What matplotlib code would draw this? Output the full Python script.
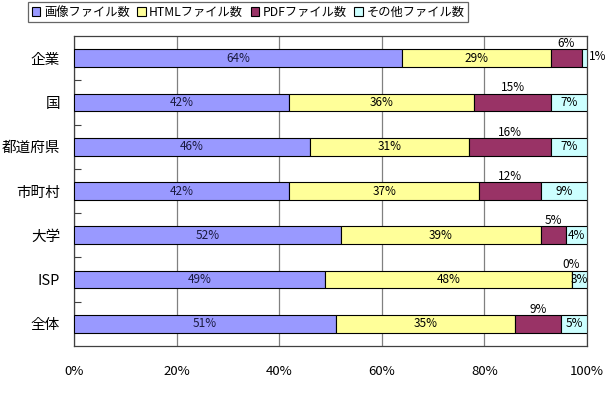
import matplotlib
matplotlib.use("Agg")
from matplotlib import pyplot as plt
import numpy as np

plt.rcParams['font.family'] = ['Noto Sans CJK JP', 'DejaVu Sans']

# data (percent of files)
categories = ['企業', '国', '都道府県', '市町村', '大学', 'ISP', '全体']
series_names = ['画像ファイル数', 'HTMLファイル数', 'PDFファイル数', 'その他ファイル数']
image_files = [64, 42, 46, 42, 52, 49, 51]
html_files = [29, 36, 31, 37, 39, 48, 35]
pdf_files = [6, 15, 16, 12, 5, 0, 9]
other_files = [1, 7, 7, 9, 4, 3, 5]
xtick_labels = ['0%', '20%', '40%', '60%', '80%', '100%']

colors = ['#9999FF', '#FFFF99', '#993366', '#CCFFFF']

fig = plt.figure(figsize=(6.11, 3.94), dpi=100)
ax = fig.add_axes([74 / 611, 1 - 346 / 394, 513 / 611, 310 / 394])

y = np.arange(len(categories))
left = np.zeros(len(categories))
bars = []
for name, vals, c in zip(series_names, [image_files, html_files, pdf_files, other_files], colors):
    vals = np.array(vals, dtype=float)
    b = ax.barh(y, vals, left=left, height=0.4, color=c, edgecolor='black',
                linewidth=0.8, label=name, zorder=3)
    bars.append((b, vals, left.copy()))
    left = left + vals

# data labels
for k, (b, vals, lefts) in enumerate(bars):
    for i in range(len(categories)):
        cx = lefts[i] + vals[i] / 2
        txt = '{:.0f}%'.format(vals[i])
        if k == 2:
            # PDF labels sit above the bar
            ax.annotate(txt, (cx, y[i]), xytext=(0, 10.5), textcoords='offset points',
                        ha='center', va='center', fontsize=8.5, zorder=5)
        elif k == 3 and vals[i] < 2:
            ax.annotate(txt, (lefts[i] + vals[i], y[i]), xytext=(8, 1), textcoords='offset points',
                        ha='center', va='center', fontsize=8.5, zorder=5, annotation_clip=False)
        else:
            ax.text(cx, y[i], txt, ha='center', va='center', fontsize=8.5,
                    color='#1a1a40' if k == 0 else 'black', zorder=5)

ax.set_xlim(0, 100)
ax.set_ylim(len(categories) - 0.5, -0.5)
ax.set_xticks([0, 20, 40, 60, 80, 100])
ax.set_xticklabels(xtick_labels, fontsize=9.5)
ax.set_yticks(y)
ax.set_yticklabels(categories, fontsize=10.5)
ax.set_yticks(np.arange(0.5, len(categories) - 1, 1), minor=True)
ax.tick_params(axis='x', length=0, pad=14)
ax.tick_params(axis='y', which='major', length=0, pad=10)
ax.tick_params(axis='y', which='minor', direction='in', length=5, color='#404040', width=0.8)

ax.grid(axis='x', color='#808080', linewidth=0.9, zorder=0)
for s in ax.spines.values():
    s.set_color('#404040')
    s.set_linewidth(0.9)

leg = fig.legend(loc='upper left', bbox_to_anchor=(28 / 611, 1 - 2 / 394), ncol=4,
                 fontsize=8.8, frameon=True, fancybox=False, edgecolor='#404040',
                 handlelength=0.7, handleheight=0.7, handletextpad=0.3, columnspacing=0.6,
                 borderpad=0.3, borderaxespad=0)
leg.get_frame().set_linewidth(0.9)

fig.savefig('out.png', dpi=100)
